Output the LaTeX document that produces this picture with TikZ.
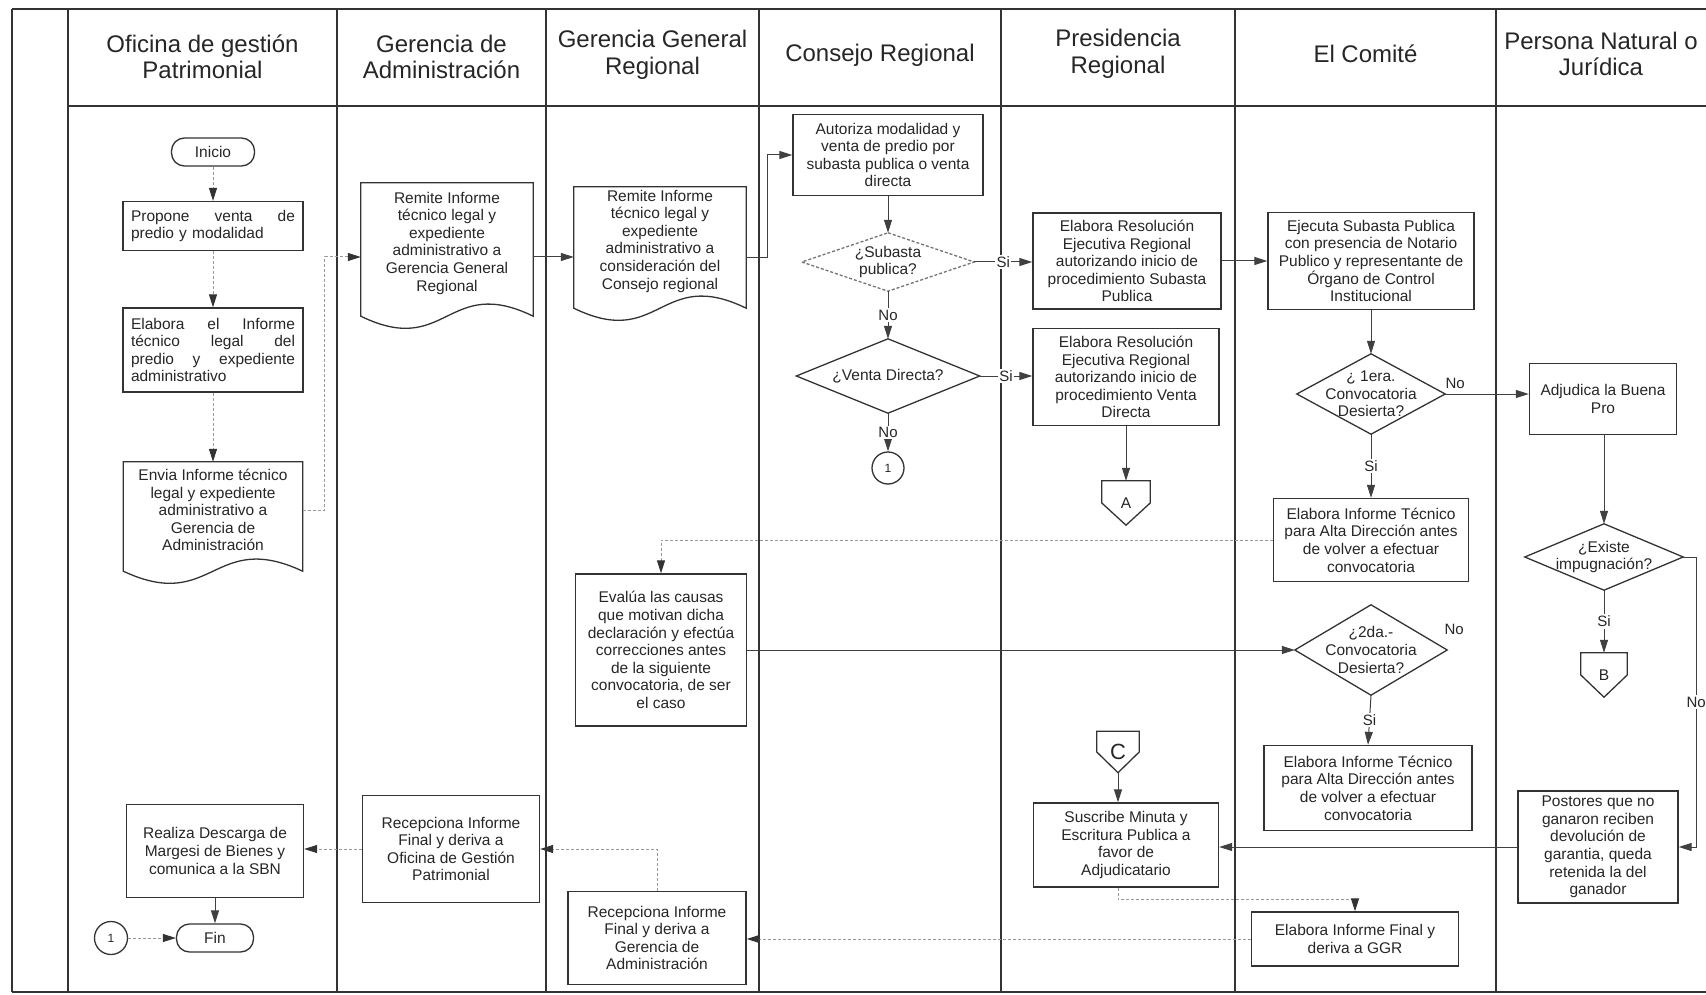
\documentclass[tikz,border=0pt]{standalone}
\usepackage{fontspec}
\setmainfont{Liberation Sans}
\usetikzlibrary{arrows.meta}
\begin{document}
\begin{tikzpicture}[x=1pt, y=-1pt,
		every node/.style={font=\fontsize{15.5}{17.6}\selectfont, text=black!85},
		cabecera/.style={align=center, font=\fontsize{24}{26.5}\selectfont},
		caja/.style={draw=black!80, line width=1.3pt, align=center, inner sep=2pt},
		documento/.style={align=center, inner sep=2pt},
		decision/.style={align=center, inner sep=0pt},
		salto/.style={inner sep=0pt},
		terminal/.style={draw=black!80, line width=1.3pt, rounded corners=13pt, minimum height=28pt},
		circulo/.style={draw=black!80, line width=1.3pt, circle, inner sep=0pt, minimum size=33pt, font=\fontsize{12}{14}\selectfont},
		flecha/.style={draw=black!75, line width=1pt, -{Triangle[length=13pt,width=8pt]}},
		tenue/.style={draw=black!40, line width=1pt, densely dashed, -{Triangle[length=13pt,width=8pt,color=black!80]}},
		etiqueta/.style={fill=white, inner sep=1.5pt, font=\fontsize{15}{17}\selectfont},
		carril/.style={draw=black!80, line width=1.4pt},
		contorno/.style={draw=black!80, line width=1.3pt}]
	\useasboundingbox (0,0) rectangle (1706,995);
	\draw[carril, line width=2pt] (12,9) -- (1706,9);
	\draw[carril, line width=2pt] (68,106) -- (1706,106);
	\draw[carril, line width=2pt] (12,992) -- (1706,992);
	\foreach \x in {12,68,337,546,759,1001,1235,1496}
		\draw[carril] (\x,9) -- (\x,992);
	\node[cabecera] (hOficina) at (202.5,57) {Oficina de gestión\\Patrimonial};
	\node[cabecera] (hAdmin) at (441.5,57) {Gerencia de\\Administración};
	\node[cabecera] (hGGR) at (652.5,55) {Gerencia General\\Regional};
	\node[cabecera] (hConsejo) at (880,55) {Consejo Regional};
	\node[cabecera] (hPres) at (1118,54) {Presidencia\\Regional};
	\node[cabecera] (hComite) at (1365.5,54) {El Comité};
	\node[cabecera] (hPersona) at (1601,54) {Persona Natural o\\Jurídica};

	% Oficina de gestion Patrimonial
	\node[terminal, minimum width=83pt] (inicio) at (213,152) {Inicio};
	\node[caja, text width=164pt, inner xsep=8pt, minimum height=49pt, align=left] (propone) at (213,226) {Propone\hfill venta\hfill de\\predio y modalidad};
	\node[caja, text width=164pt, inner xsep=8pt, minimum height=84pt, align=left] (elabora) at (213,350) {Elabora\hfill el\hfill Informe\\técnico\hfill legal\hfill del\\predio\hfill y\hfill expediente\\administrativo};
	\node[documento, minimum width=179pt, minimum height=96pt] (envia) at (213,510) {Envia Informe técnico\\legal y expediente\\administrativo a\\Gerencia de\\Administración};
	\node[caja, minimum width=177pt, minimum height=93pt] (realiza) at (215,851) {Realiza Descarga de\\Margesi de Bienes y\\comunica a la SBN};
	\node[terminal, minimum width=77pt] (fin) at (215,938) {Fin};
	\node[circulo] (unoFin) at (111,938) {1};

	% Gerencias
	\node[documento, minimum width=172pt, minimum height=120pt] (remiteGA) at (447,243) {Remite Informe\\técnico legal y\\expediente\\administrativo a\\Gerencia General\\Regional};
	\node[caja, minimum width=177pt, minimum height=107pt] (recepGA) at (451,849) {Recepciona Informe\\Final y deriva a\\Oficina de Gestión\\Patrimonial};
	\node[documento, minimum width=172pt, minimum height=108pt] (remiteGGR) at (660,241) {Remite Informe\\técnico legal y\\expediente\\administrativo a\\consideración del\\Consejo regional};
	\node[caja, minimum width=171pt, minimum height=152pt] (evalua) at (661,650) {Evalúa las causas\\que motivan dicha\\declaración y efectúa\\correcciones antes\\de la siguiente\\convocatoria, de ser\\el caso};
	\node[caja, minimum width=178pt, minimum height=93pt] (recepGGR) at (657,938) {Recepciona Informe\\Final y deriva a\\Gerencia de\\Administración};

	% Consejo Regional
	\node[caja, minimum width=190pt, minimum height=81pt] (autoriza) at (888,155) {Autoriza modalidad y\\venta de predio por\\subasta publica o venta\\directa};
	\node[decision, minimum width=172pt, minimum height=58pt] (subasta) at (888,262) {¿Subasta\\publica?};
	\node[decision, minimum width=183pt, minimum height=74pt] (venta) at (888,376) {¿Venta Directa?};
	\node[circulo, minimum size=32pt] (uno) at (888,468) {1};

	% Presidencia Regional
	\node[caja, minimum width=188pt, minimum height=96pt] (resSub) at (1127,261) {Elabora Resolución\\Ejecutiva Regional\\autorizando inicio de\\procedimiento Subasta\\Publica};
	\node[caja, minimum width=186pt, minimum height=97pt] (resVen) at (1126,377) {Elabora Resolución\\Ejecutiva Regional\\autorizando inicio de\\procedimiento Venta\\Directa};
	\node[salto, minimum width=48pt, minimum height=44pt] (pa) at (1126,503) {A};
	\node[salto, minimum width=42pt, minimum height=41pt, font=\fontsize{22}{24}\selectfont] (pc) at (1118,752) {C};
	\node[caja, minimum width=185pt, minimum height=84pt] (suscribe) at (1126,845) {Suscribe Minuta y\\Escritura Publica a\\favor de\\Adjudicatario};

	% El Comite
	\node[caja, minimum width=206pt, minimum height=97pt] (ejecuta) at (1371,261) {Ejecuta Subasta Publica\\con presencia de Notario\\Publico y representante de\\Órgano de Control\\Institucional};
	\node[decision, minimum width=148pt, minimum height=80pt] (d1) at (1371,394) {¿ 1era.\\Convocatoria\\Desierta?};
	\node[caja, minimum width=195pt, minimum height=83pt] (infTec1) at (1371,540) {Elabora Informe Técnico\\para Alta Dirección antes\\de volver a efectuar\\convocatoria};
	\node[decision, minimum width=152pt, minimum height=90pt] (d2) at (1371,650) {¿2da.-\\Convocatoria\\Desierta?};
	\node[caja, minimum width=208pt, minimum height=85pt] (infTec2) at (1368,788) {Elabora Informe Técnico\\para Alta Dirección antes\\de volver a efectuar\\convocatoria};
	\node[caja, minimum width=207pt, minimum height=54pt] (final) at (1355,939) {Elabora Informe Final y\\deriva a GGR};

	% Persona Natural o Juridica
	\node[caja, minimum width=147pt, minimum height=71pt] (adjudica) at (1603,399) {Adjudica la Buena\\Pro};
	\node[decision, minimum width=158pt, minimum height=66pt] (existe) at (1604,557) {¿Existe\\impugnación?};
	\node[salto, minimum width=46pt, minimum height=44pt] (pb) at (1604,675) {B};
	\node[caja, minimum width=160pt, minimum height=112pt] (postores) at (1598,847) {Postores que no\\ganaron reciben\\devolución de\\garantia, queda\\retenida la del\\ganador};

	\foreach \n in {envia,remiteGA,remiteGGR}
		\draw[contorno] (\n.north west) -- (\n.north east) -- ([yshift=-13pt]\n.south east) .. controls ([yshift=29pt]\n.south) and ([yshift=-55pt]\n.south) .. ([yshift=-13pt]\n.south west) -- cycle;
	\draw[contorno, draw=black!55, densely dashed] (subasta.north) -- (subasta.east) -- (subasta.south) -- (subasta.west) -- cycle;
	\foreach \n in {venta,d1,d2,existe}
		\draw[contorno] (\n.north) -- (\n.east) -- (\n.south) -- (\n.west) -- cycle;
	\foreach \n in {pa,pb,pc}
		\draw[contorno] (\n.north west) -- (\n.north east) -- (\n.east) -- (\n.south) -- (\n.west) -- cycle;

	\draw[tenue] (inicio.south) -- (propone.north);
	\draw[tenue] (propone.south) -- (elabora.north);
	\draw[tenue] (elabora.south) -- (envia.north);
	\draw[tenue] (envia.east) -- ++(22,0) |- ([yshift=-14pt]remiteGA.west);
	\draw[flecha] ([yshift=-14pt]remiteGA.east) -- ([yshift=-14pt]remiteGA.east -| remiteGGR.west);
	\draw[flecha] ([yshift=-17pt]remiteGGR.east) -- ++(21,0) |- (autoriza.west);
	\draw[flecha] (autoriza.south) -- (subasta.north);
	\draw[flecha] (subasta.south) -- node[etiqueta] {No} (venta.north);
	\draw[flecha] (venta.south) -- node[etiqueta] {No} (uno.north);
	\draw[flecha] (subasta.east) -- node[etiqueta] {Si} (subasta.east -| resSub.west);
	\draw[flecha] (venta.east) -- node[etiqueta] {Si} (venta.east -| resVen.west);
	\draw[flecha] (resVen.south) -- (pa.north);
	\draw[flecha] (resSub.east) -- (resSub.east -| ejecuta.west);
	\draw[flecha] (ejecuta.south) -- (d1.north);
	\draw[flecha] (d1.east) -- node[pos=0.12, above=2pt, font=\fontsize{15}{17}\selectfont] {No} (d1.east -| adjudica.west);
	\draw[flecha] (d1.south) -- node[etiqueta] {Si} (infTec1.north);
	\draw[tenue] (infTec1.west) -| (evalua.north);
	\draw[flecha] (evalua.east) -- (evalua.east -| d2.west);
	\node[font=\fontsize{15}{17}\selectfont] (noD2) at ([xshift=7pt,yshift=21pt]d2.east) {No};
	\draw[flecha] (d2.south) -- node[etiqueta] {Si} (infTec2.north);
	\draw[flecha] (adjudica.south -| existe.north) -- (existe.north);
	\draw[flecha] (existe.south) -- node[etiqueta] {Si} (pb.north);
	\draw[flecha] (existe.east) -- ++(13,0) |- node[etiqueta, pos=0.25] {No} (postores.east);
	\draw[flecha] (postores.west) -- (postores.west -| suscribe.east);
	\draw[flecha] (pc.south) -- (pc.south |- suscribe.north);
	\draw[tenue] (pc.south |- suscribe.south) -- ++(0,12) -| (final.north);
	\draw[tenue] (final.west) -- (final.west -| recepGGR.east);
	\draw[tenue] (recepGGR.north) |- (recepGA.east);
	\draw[tenue] (recepGA.west) -- (recepGA.west -| realiza.east);
	\draw[flecha] (realiza.south) -- (fin.north);
	\draw[tenue] (unoFin.east) -- (fin.west);
\end{tikzpicture}
\end{document}
